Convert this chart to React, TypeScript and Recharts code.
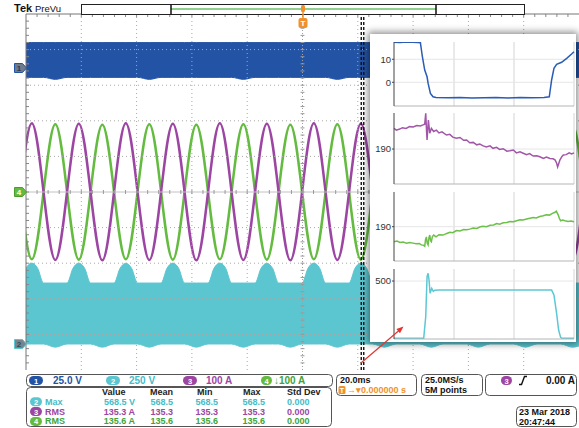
import React from 'react';
import { ComposedChart, LineChart, Line, Area, XAxis, YAxis, ReferenceLine } from 'recharts';

const FONT = '"Liberation Sans", Arial, sans-serif';
const BLUE = '#2353a4';
const CYAN = '#5bc6d0';
const PURPLE = '#9c45a3';
const GREEN = '#63bb3f';
const ORANGE = '#f0922b';

// quarter-cycle instants, ms from trigger
const tq = [-102.15, -97.9, -93.65, -89.4, -85.15, -80.9, -76.65, -72.4, -68.15, -63.9, -59.65, -55.4, -51.15, -46.9, -42.65, -38.4, -34.15, -29.9, -25.65, -21.4, -17.15, -12.9, -8.65, -4.4, -0.15, 4.1, 8.35, 12.6, 16.85, 21.1, 25.35, 29.6, 33.85, 38.1, 42.35, 46.6, 50.85, 55.1, 59.35, 63.6, 67.85, 72.1, 76.35, 80.6, 84.85, 89.1, 93.35, 97.6, 101.85];
// ch3 / ch4 phase currents, A
const iaAmps = [0, 193, 0, -191, 0, 192, 0, -192, 0, 193, 0, -191, 0, 192, 0, -192, 0, 193, 0, -191, 0, 192, 0, -192, 0, 193, 0, -191, 0, 192, 0, -192, 0, 193, 0, -191, 0, 192, 0, -192, 0, 193, 0, -191, 0, 192, 0, -192, 0];
const ibAmps = [0, -189, 0, 190, 0, -190, 0, 189, 0, -189, 0, 190, 0, -190, 0, 189, 0, -189, 0, 190, 0, -190, 0, 189, 0, -189, 0, 190, 0, -190, 0, 189, 0, -189, 0, 190, 0, -190, 0, 189, 0, -189, 0, 190, 0, -190, 0, 189, 0];
// ch1 gate-drive envelope, V
const ch1High = [17.6, 17.6, 17.6, 17.6, 17.6, 17.6, 17.6, 17.6, 17.6, 17.6, 17.6, 17.6, 17.6, 17.6, 17.6, 17.6, 17.6, 17.6, 17.6, 17.6, 17.6, 17.6, 17.6, 17.6, 17.6, 17.6, 17.6, 17.6, 17.6, 17.6, 17.6, 17.6, 17.6, 17.6, 17.6, 17.6, 17.6, 17.6, 17.6, 17.6, 17.6, 17.6, 17.6, 17.6, 17.6, 17.6, 17.6, 17.6, 17.6];
const ch1Low = [-6.8, -6.8, -6.8, -8.2, -6.8, -6.8, -6.8, -6.8, -6.8, -6.8, -6.8, -8.2, -6.8, -6.8, -6.8, -6.8, -6.8, -6.8, -6.8, -8.2, -6.8, -6.8, -6.8, -6.8, -6.8, -6.8, -6.8, -8.2, -6.8, -6.8, -6.8, -6.8, -6.8, -6.8, -6.8, -8.2, -6.8, -6.8, -6.8, -6.8, -6.8, -6.8, -6.8, -8.2, -6.8, -6.8, -6.8, -6.8, -6.8];

// ch2 PWM envelope, V (hump shoulders read 2.1 ms either side of each crest)
const ch2Times = [-102.15, -100, -97.9, -95.8, -93.65, -89.4, -85.15, -83, -80.9, -78.8, -76.65, -72.4, -68.15, -66, -63.9, -61.8, -59.65, -55.4, -51.15, -49, -46.9, -44.8, -42.65, -38.4, -34.15, -32, -29.9, -27.8, -25.65, -21.4, -17.15, -15, -12.9, -10.8, -8.65, -4.4, -0.15, 2, 4.1, 6.2, 8.35, 12.6, 16.85, 19, 21.1, 23.2, 25.35, 29.6, 33.85, 36, 38.1, 40.2, 42.35, 46.6, 50.85, 53, 55.1, 57.2, 59.35, 63.6, 67.85, 70, 72.1, 74.2, 76.35, 80.6, 84.85, 87, 89.1, 91.2, 93.35, 97.6, 101.85];
const ch2High = [428, 532, 568, 532, 428, 428, 428, 532, 568, 532, 428, 428, 428, 531, 567, 531, 428, 428, 428, 532, 568, 532, 428, 428, 428, 532, 568, 532, 428, 428, 428, 531, 567, 531, 428, 428, 428, 532, 568, 532, 428, 428, 428, 532, 568, 532, 428, 428, 428, 531, 567, 531, 428, 428, 428, 532, 568, 532, 428, 428, 428, 532, 568, 532, 428, 428, 428, 531, 567, 531, 428, 428, 428];
const ch2Low = [0, 0, 0, 0, 0, -22, 0, 0, 0, 0, 0, -22, 0, 0, 0, 0, 0, -22, 0, 0, 0, 0, 0, -22, 0, 0, 0, 0, 0, -22, 0, 0, 0, 0, 0, -22, 0, 0, 0, 0, 0, -22, 0, 0, 0, 0, 0, -22, 0, 0, 0, 0, 0, -22, 0, 0, 0, 0, 0, -22, 0, 0, 0, 0, 0, -22, 0, 0, 0, 0, 0, -22, 0];

const mainRows = tq.map((t, i) => ({
  t,
  ia: iaAmps[i],
  ib: ibAmps[i],
  ch1: [ch1Low[i], ch1High[i]],
}));
const ch2Rows = ch2Times.map((t, i) => ({ t, ch2: [ch2Low[i], ch2High[i]] }));

// zoom window (ms) shown in the detail pane
const zoomWindow = [21.25, 22.15];

// detail pane traces: [position 0..300, value]
const zoomCh1 = [[0, 17.4], [10, 17.3], [20, 17.5], [30, 17.4], [40, 17.3], [44, 17.2], [47.3, 11.1], [51.2, 5.3], [55.1, 2.4], [56.8, -0.4], [60.7, -4.8], [65, -6.3], [70, -6.6], [90, -6.7], [110, -6.6], [130, -6.8], [150, -6.7], [170, -6.6], [190, -6.8], [210, -6.6], [230, -6.7], [250, -6.6], [258.8, -6.3], [262.7, 1], [266.6, 6.1], [271, 7.8], [279.4, 8.7], [287.8, 10.4], [296, 12.3], [300, 13.3]];
const zoomCh3 = [[0, 195.9], [4, 195.4], [9.5, 195.7], [14, 196.1], [20, 195.9], [26, 196.4], [32, 196.3], [38, 196.7], [44, 196.6], [48.4, 196.9], [51.2, 197.1], [52.9, 200.2], [54, 196], [55.1, 192.6], [57.3, 198.3], [59.6, 194.5], [62.3, 195.9], [66, 195], [70.7, 195.4], [75, 194.6], [80, 194.9], [87.4, 194], [93, 194.2], [98, 193.4], [104, 193.1], [110, 193.3], [116, 192.5], [121, 192.6], [126.3, 191.8], [132, 191.9], [138, 191.2], [143, 191.4], [148.6, 190.9], [154, 190.6], [160, 190.9], [165, 190.2], [170.9, 190.5], [176, 189.9], [182, 190.1], [188, 189.4], [193, 189.5], [199, 189.7], [204, 188.9], [210, 189.2], [215.4, 188.8], [221, 188.4], [226, 188.7], [232, 188], [237.7, 188.1], [243, 187.8], [249, 187.3], [254, 187.7], [260, 187.3], [265, 187.2], [268.3, 186.9], [271, 186], [272.7, 184.9], [274.5, 185.8], [276.6, 186.9], [280, 187.9], [282.2, 188.3], [287, 188.4], [292, 188.9], [296, 188.6], [300, 188.9]];
const zoomCh4 = [[0, 185.7], [5, 185.9], [10, 185.5], [15, 185.6], [21, 185.3], [26, 185.5], [31.7, 185.3], [37, 185.1], [42, 185.2], [45.6, 184.8], [49, 184.7], [51.2, 184.4], [52.5, 186.2], [54, 187.1], [55.3, 185.3], [56.8, 184.8], [58.2, 186.8], [59.6, 187.6], [61, 186], [62.3, 185.7], [64, 187.2], [66.2, 187.6], [70, 187.1], [75, 187.7], [81.8, 187.6], [87, 188], [93, 188.4], [98, 188.3], [104, 188.9], [110, 188.8], [116, 189.2], [121, 189.1], [126.3, 189.3], [132, 189.6], [138, 189.5], [143, 189.9], [148, 190.1], [154.2, 190], [160, 190.4], [166, 190.5], [171, 190.9], [176, 190.7], [182, 191.1], [188, 191.2], [193, 191.5], [199, 191.4], [204.3, 191.7], [210, 192], [215, 191.9], [221, 192.2], [226.5, 192.4], [232, 192.6], [237, 192.5], [243, 192.9], [248.8, 193.1], [254, 193.4], [259, 193.3], [264, 193.8], [268.3, 194.1], [270.5, 194.4], [273.8, 193.3], [275.5, 192.4], [277.7, 191.7], [281, 191.9], [285, 191.7], [290, 191.5], [295, 191.6], [300, 191.4]];
const zoomCh2 = [[0, 0], [49.5, 0], [52.9, 190], [55.1, 538], [56.8, 568], [58.4, 509], [60.1, 393], [62.9, 436], [65.5, 410], [67.9, 420], [76.2, 421], [120, 421], [180, 421], [240, 421], [262.7, 421], [266.6, 378], [271, 218], [274.4, 72], [277.7, 8], [280, 0], [300, 0]];

const toRows = (pts: number[][]) => pts.map(([x, v]) => ({ x, v }));

// graticule: 10 x 10 divisions, 20 ms and 100 A each, 5 minor ticks per division
const divTimes = [-80, -60, -40, -20, 20, 40, 60, 80];
const divAmps = [-400, -300, -200, -100, 100, 200, 300, 400];
const minorTimes: number[] = [];
for (let t = -96; t <= 96; t += 4) minorTimes.push(t);
const minorAmps: number[] = [];
for (let a = -480; a <= 480; a += 20) minorAmps.push(a);

function Scope() {
  return (
    <ComposedChart width={579} height={371} data={mainRows} margin={{ top: 14, right: 0, bottom: 1, left: 26 }}>
      <XAxis type="number" dataKey="t" domain={[-100, 100]} hide allowDataOverflow />
      <YAxis domain={[-500, 500]} hide allowDataOverflow />
      <YAxis yAxisId="ch1" domain={[-212.3, 37.7]} hide allowDataOverflow />
      <YAxis yAxisId="ch2" domain={[-182.6, 2317.4]} hide allowDataOverflow />

      <Area yAxisId="ch1" dataKey="ch1" type="monotone" stroke={BLUE} fill={BLUE} fillOpacity={1} isAnimationActive={false} />
      <Area yAxisId="ch2" data={ch2Rows} dataKey="ch2" type="monotone" stroke={CYAN} fill={CYAN} fillOpacity={1} isAnimationActive={false} />
      <Line dataKey="ib" type="natural" stroke={GREEN} strokeWidth={2.5} dot={false} isAnimationActive={false} />
      <Line dataKey="ia" type="natural" stroke={PURPLE} strokeWidth={2.5} dot={false} isAnimationActive={false} />

      {divTimes.map((t) => <ReferenceLine key={`vx${t}`} x={t} stroke="#a8a8a8" strokeDasharray="1 3" />)}
      {divAmps.map((a) => <ReferenceLine key={`hy${a}`} y={a} stroke="#a8a8a8" strokeDasharray="1 3" />)}
      <ReferenceLine y={0} stroke="#c2c2c2" />
      <ReferenceLine x={0} stroke="#a0a0a0" strokeDasharray="1 2" />
      {minorTimes.map((t) => <ReferenceLine key={`mt${t}`} segment={[{ x: t, y: -5.6 }, { x: t, y: 5.6 }]} stroke="#999" />)}
      {minorAmps.map((a) => <ReferenceLine key={`ma${a}`} segment={[{ x: -0.7, y: a }, { x: 0.7, y: a }]} stroke="#999" />)}
      {minorTimes.map((t) => <ReferenceLine key={`tt${t}`} segment={[{ x: t, y: 500 }, { x: t, y: 491.6 }]} stroke="#888" />)}
      {minorAmps.map((a) => <ReferenceLine key={`lt${a}`} segment={[{ x: -100, y: a }, { x: -98.9, y: a }]} stroke="#888" />)}
      <ReferenceLine x={-100} stroke="#777" />
      <ReferenceLine y={500} stroke="#777" />

      {zoomWindow.map((t) => <ReferenceLine key={`zw${t}`} x={t} stroke="#111" strokeWidth={1.4} strokeDasharray="3 2" />)}
    </ComposedChart>
  );
}

type PaneProps = {
  top: number;
  height: number;
  pts: number[][];
  color: string;
  domain: [number, number];
  ticks: number[];
};

function ZoomPane({ top, height, pts, color, domain, ticks }: PaneProps) {
  return (
    <div style={{ position: 'absolute', left: 372, top }}>
      <LineChart width={203} height={height} data={toRows(pts)} margin={{ top: 0, right: 1, bottom: 0, left: 0 }}>
        <XAxis type="number" dataKey="x" domain={[0, 300]} height={1} tick={false} tickLine={false} stroke="#b5b5b5" />
        <YAxis
          domain={domain}
          ticks={ticks}
          interval={0}
          width={22}
          tickSize={2}
          tickMargin={1}
          stroke="#444"
          allowDataOverflow
          tick={{ fontSize: 9.5, fill: '#333', fontFamily: FONT }}
        />
        {[100, 200, 300].map((x) => <ReferenceLine key={x} x={x} stroke="#d4d4d4" />)}
        {ticks.map((v) => <ReferenceLine key={v} y={v} stroke="#e6e6e6" />)}
        <Line dataKey="v" type="linear" stroke={color} strokeWidth={1.5} dot={false} isAnimationActive={false} />
      </LineChart>
    </div>
  );
}

function Badge({ x, y, w, color, label }: { x: number; y: number; w: number; color: string; label: string }) {
  return (
    <g>
      <rect x={x} y={y - 4.5} width={w} height={9} rx={4.5} fill={color} />
      <text x={x + w / 2} y={y + 0.5} fill="#fff" fontSize={7.5} fontWeight="bold" textAnchor="middle" dominantBaseline="central">{label}</text>
    </g>
  );
}

function Txt({ x, y, color = '#111', size = 10, anchor = 'start', bold = true, children }: any) {
  return (
    <text x={x} y={y} fill={color} fontSize={size} fontWeight={bold ? 'bold' : 'normal'} textAnchor={anchor} dominantBaseline="central">
      {children}
    </text>
  );
}

const measRows = [
  { ch: '2', color: CYAN, text: '#45bcc7', name: 'Max', value: '568.5 V', mean: '568.5', min: '568.5', max: '568.5', sd: '0.000', y: 401.8 },
  { ch: '3', color: PURPLE, text: PURPLE, name: 'RMS', value: '135.3 A', mean: '135.3', min: '135.3', max: '135.3', sd: '0.000', y: 411.6 },
  { ch: '4', color: GREEN, text: '#3ea33a', name: 'RMS', value: '135.6 A', mean: '135.6', min: '135.6', max: '135.6', sd: '0.000', y: 421.4 },
];

function Overlay() {
  return (
    <svg width={579} height={428} style={{ position: 'absolute', left: 0, top: 0, pointerEvents: 'none' }} fontFamily={FONT}>
      {/* record bar */}
      <Txt x={14} y={8} size={11}>Tek</Txt>
      <Txt x={35} y={8} size={9.5} bold={false}>PreVu</Txt>
      <rect x={81.5} y={4.5} width={443} height={10} fill="#fff" stroke="#222" />
      <line x1={171} y1={9} x2={436} y2={9} stroke="#8fd08f" strokeWidth={2} />
      <line x1={171} y1={4.5} x2={171} y2={14.5} stroke="#111" strokeWidth={1.5} />
      <line x1={436} y1={4.5} x2={436} y2={14.5} stroke="#111" strokeWidth={1.5} />
      <rect x={301} y={5} width={4} height={7} rx={1.5} fill={ORANGE} />
      <line x1={303} y1={11} x2={303} y2={18} stroke={ORANGE} strokeWidth={1.5} />
      <rect x={298.5} y={18} width={9} height={10} rx={2} fill={ORANGE} />
      <text x={303} y={23.5} fill="#fff" fontSize={8} fontWeight="bold" textAnchor="middle" dominantBaseline="central">T</text>

      {/* channel offset markers */}
      <path d="M14.5 63.5 h8 l4 4.5 l-4 4.5 h-8 z" fill="#6f7a8b" stroke={BLUE} />
      <text x={19} y={68.5} fill="#2b3a55" fontSize={8} fontWeight="bold" textAnchor="middle" dominantBaseline="central">1</text>
      <path d="M14.5 187.5 h8 l4 4.5 l-4 4.5 h-8 z" fill={GREEN} stroke="#4a9c2c" />
      <text x={19} y={192.5} fill="#fff" fontSize={8} fontWeight="bold" textAnchor="middle" dominantBaseline="central">4</text>
      <path d="M14.5 339.5 h8 l4 4.5 l-4 4.5 h-8 z" fill="#77848f" stroke={CYAN} />
      <text x={19} y={344.5} fill="#2f4e55" fontSize={8} fontWeight="bold" textAnchor="middle" dominantBaseline="central">2</text>

      {/* arrow to detail pane */}
      <line x1={361} y1={363} x2={399} y2={330.5} stroke="#e3342f" strokeWidth={1.2} />
      <polygon points="403.5,326.5 400,333.2 396.4,329" fill="#e3342f" />

      {/* channel settings */}
      <rect x={26.5} y={374.5} width={306} height={12} rx={4} fill="#fff" stroke="#555" />
      <Badge x={29} y={380.5} w={14} color={BLUE} label="1" />
      <Txt x={53} y={380.5} color={BLUE}>25.0 V</Txt>
      <Badge x={106} y={380.5} w={14} color={CYAN} label="2" />
      <Txt x={129} y={380.5} color="#45bcc7">250 V</Txt>
      <Badge x={183} y={380.5} w={14} color={PURPLE} label="3" />
      <Txt x={206} y={380.5} color={PURPLE}>100 A</Txt>
      <Badge x={261} y={380.5} w={11} color={GREEN} label="4" />
      <Txt x={274} y={380.5} color="#3ea33a">↓100 A</Txt>

      {/* measurements */}
      <rect x={26.5} y={387.5} width={305} height={39} rx={4} fill="#fff" stroke="#555" />
      <Txt x={102} y={392.3} color="#222" size={9}>Value</Txt>
      <Txt x={150} y={392.3} color="#222" size={9}>Mean</Txt>
      <Txt x={197} y={392.3} color="#222" size={9}>Min</Txt>
      <Txt x={243} y={392.3} color="#222" size={9}>Max</Txt>
      <Txt x={287} y={392.3} color="#222" size={9}>Std Dev</Txt>
      {measRows.map((r) => (
        <g key={r.ch}>
          <Badge x={30} y={r.y} w={12} color={r.color} label={r.ch} />
          <Txt x={45} y={r.y} color={r.text} size={9}>{r.name}</Txt>
          <Txt x={135} y={r.y} color={r.text} size={9} anchor="end">{r.value}</Txt>
          <Txt x={173} y={r.y} color={r.text} size={9} anchor="end">{r.mean}</Txt>
          <Txt x={218} y={r.y} color={r.text} size={9} anchor="end">{r.min}</Txt>
          <Txt x={265} y={r.y} color={r.text} size={9} anchor="end">{r.max}</Txt>
          <Txt x={287} y={r.y} color={r.text} size={9}>{r.sd}</Txt>
        </g>
      ))}

      {/* horizontal */}
      <rect x={336.5} y={374.5} width={80} height={21} rx={4} fill="#fff" stroke="#555" />
      <Txt x={340} y={380} size={9}>20.0ms</Txt>
      <rect x={338.5} y={386} width={7} height={8} rx={1.5} fill={ORANGE} />
      <text x={342} y={390.5} fill="#fff" fontSize={7} fontWeight="bold" textAnchor="middle" dominantBaseline="central">T</text>
      <Txt x={347} y={390} color={ORANGE} size={9}>→▾0.000000 s</Txt>
      <rect x={421.5} y={374.5} width={61} height={21} rx={4} fill="#fff" stroke="#555" />
      <Txt x={425} y={380} size={9}>25.0MS/s</Txt>
      <Txt x={425} y={390} size={9}>5M points</Txt>

      {/* trigger */}
      <rect x={485.5} y={374.5} width={91} height={21} rx={4} fill="#fff" stroke="#555" />
      <Badge x={501} y={380.5} w={11} color={PURPLE} label="3" />
      <path d="M519 384.5 h2.5 l3 -8 h2.5" fill="none" stroke="#111" strokeWidth={1.4} />
      <Txt x={575} y={380.5} anchor="end">0.00 A</Txt>

      {/* date */}
      <rect x={516.5} y={406.5} width={60} height={20} rx={4} fill="#fff" stroke="#555" />
      <Txt x={519} y={411.8} size={9}>23 Mar  2018</Txt>
      <Txt x={519} y={421.5} size={9}>20:47:44</Txt>
    </svg>
  );
}

export default function App() {
  return (
    <div style={{ position: 'absolute', left: 0, top: 0, width: 579, height: 428, background: '#fff', fontFamily: FONT, overflow: 'hidden' }}>
      <div style={{ position: 'absolute', left: 0, top: 0 }}>
        <Scope />
      </div>
      <div
        style={{
          position: 'absolute',
          left: 370,
          top: 34,
          width: 206,
          height: 308,
          background: '#fff',
          boxShadow: '0 0 7px 2px rgba(0,0,0,0.45)',
        }}
      />
      <ZoomPane top={42} height={65} pts={zoomCh1} color="#2a5bb5" domain={[-10.3, 17.5]} ticks={[0, 10]} />
      <ZoomPane top={113} height={72} pts={zoomCh3} color="#a256a8" domain={[180, 200.3]} ticks={[190]} />
      <ZoomPane top={192} height={70} pts={zoomCh4} color="#6cc04a" domain={[180.2, 199.9]} ticks={[190]} />
      <ZoomPane top={269} height={71} pts={zoomCh2} color="#5cc8d4" domain={[-6, 605]} ticks={[500]} />
      <Overlay />
    </div>
  );
}
